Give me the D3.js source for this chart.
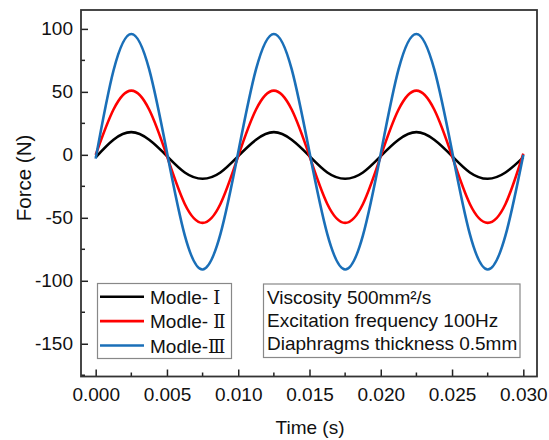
<!DOCTYPE html>
<html><head><meta charset="utf-8">
<script src="https://cdn.jsdelivr.net/npm/d3@7"></script>
<style>
body{margin:0;background:#fff;}
text{font-family:"Liberation Sans",Arial,sans-serif;fill:#111;}
</style></head>
<body>
<svg id="chart" width="549" height="440"></svg>
<script>
const times = [0,0.00125,0.0025,0.00375,0.005,0.00625,0.0075,0.00875,0.01,0.01125,0.0125,0.01375,0.015,0.01625,0.0175,0.01875,0.02,0.02125,0.0225,0.02375,0.025,0.02625,0.0275,0.02875,0.03];
const modle1 = [-2,12,18,12,-1,-14,-19,-14,-1,12,18,12,-1,-14,-19,-14,-1,12,18,12,-1,-14,-19,-14,-2];
const modle2 = [0,36,51,36,-1,-39,-54,-39,-1,36,51,36,-1,-39,-54,-39,-1,36,51,36,-1,-39,-54,-39,1];
const modle3 = [-3,67,96,68,2,-64,-91,-63,2,68,96,68,2,-63,-91,-64,1,68,96,68,3,-63,-91,-64,0];
const seriesNames = ["Modle- \u2160","Modle- \u2161","Modle-\u2162"];
const seriesColors = ["#000000","#ff0000","#1a6fb8"];
const xTicks = [0,0.005,0.010,0.015,0.020,0.025,0.030];
const xMinor = [0.0025,0.0075,0.0125,0.0175,0.0225,0.0275];
const yTicks = [100,50,0,-50,-100,-150];
const yMinor = [75,25,-25,-75,-125,-175];
const infoLines = ["Viscosity 500mm\u00b2/s","Excitation frequency 100Hz","Diaphragms thickness 0.5mm"];

const svg = d3.select("#chart");
const L=81, R=537, T=10, B=376.5;
const x = d3.scaleLinear().domain([-0.00103,0.03096]).range([L,R]);
const y = d3.scaleLinear().domain([-176,115]).range([B,T]);

svg.append("rect").attr("width",549).attr("height",440).attr("fill","#fff");

// series
const allSeries=[modle1,modle2,modle3];
const line = d3.line().x((d,i)=>x(times[i])).y(d=>y(d)).curve(d3.curveNatural);
allSeries.forEach((s,k)=>{
  svg.append("path").datum(s).attr("d",line).attr("fill","none")
    .attr("stroke",seriesColors[k]).attr("stroke-width",2.6);
});

// axes
const fs = "19px";
const gx = svg.append("g").attr("transform",`translate(0,${B})`)
  .call(d3.axisBottom(x).tickValues(xTicks).tickFormat(d3.format(".3f")).tickSize(-7).tickPadding(11));
const gy = svg.append("g").attr("transform",`translate(${L},0)`)
  .call(d3.axisLeft(y).tickValues(yTicks).tickFormat(d=>String(d)).tickSize(-7).tickPadding(8));
[gx,gy].forEach(g=>{
  g.select(".domain").remove();
  g.selectAll(".tick line").attr("stroke","#222").attr("stroke-width",1.5);
  g.selectAll(".tick text").style("font-size",fs).attr("fill","#111").style("font-family","'Liberation Sans',Arial,sans-serif");
});
gx.selectAll(".minor").data(xMinor).enter().append("line")
  .attr("x1",d=>x(d)).attr("x2",d=>x(d)).attr("y1",0).attr("y2",-4)
  .attr("stroke","#222").attr("stroke-width",1.5);
gy.selectAll(".minor").data(yMinor).enter().append("line")
  .attr("y1",d=>y(d)).attr("y2",d=>y(d)).attr("x1",0).attr("x2",4)
  .attr("stroke","#222").attr("stroke-width",1.5);

// frame
svg.append("rect").attr("x",L).attr("y",T).attr("width",R-L).attr("height",B-T)
  .attr("fill","none").attr("stroke","#333").attr("stroke-width",1.8);

// axis titles
svg.append("text").attr("x",(L+R)/2+1).attr("y",434).attr("text-anchor","middle")
  .style("font-size",fs).text("Time (s)");
svg.append("text").attr("transform","translate(30.5,178) rotate(-90)").attr("text-anchor","middle")
  .style("font-size","20.5px").text("Force (N)");

// legend
const lg = svg.append("g");
lg.append("rect").attr("x",97.5).attr("y",283.5).attr("width",134).attr("height",75)
  .attr("fill","#fff").attr("stroke","#888").attr("stroke-width",1.2);
seriesNames.forEach((n,i)=>{
  const yy = 296.7 + i*24.4;
  lg.append("line").attr("x1",100).attr("x2",144).attr("y1",yy).attr("y2",yy)
    .attr("stroke",seriesColors[i]).attr("stroke-width",2.6);
  const parts = n.match(/^(.*?)([\u2160-\u2162])$/);
  const t = lg.append("text").attr("x",150).attr("y",yy+7).style("font-size",fs);
  t.append("tspan").text(parts[1]);
  t.append("tspan").style("font-family","'DejaVu Serif','Liberation Serif',serif").style("font-size","18px").text(parts[2]);
});

// info box
const ib = svg.append("g");
ib.append("rect").attr("x",263.5).attr("y",284).attr("width",256.5).attr("height",73.5)
  .attr("fill","#fff").attr("stroke","#888").attr("stroke-width",1.2);
infoLines.forEach((s,i)=>{
  ib.append("text").attr("x",267).attr("y",303.5+i*23.3).style("font-size",fs).text(s);
});
</script>
</body></html>
